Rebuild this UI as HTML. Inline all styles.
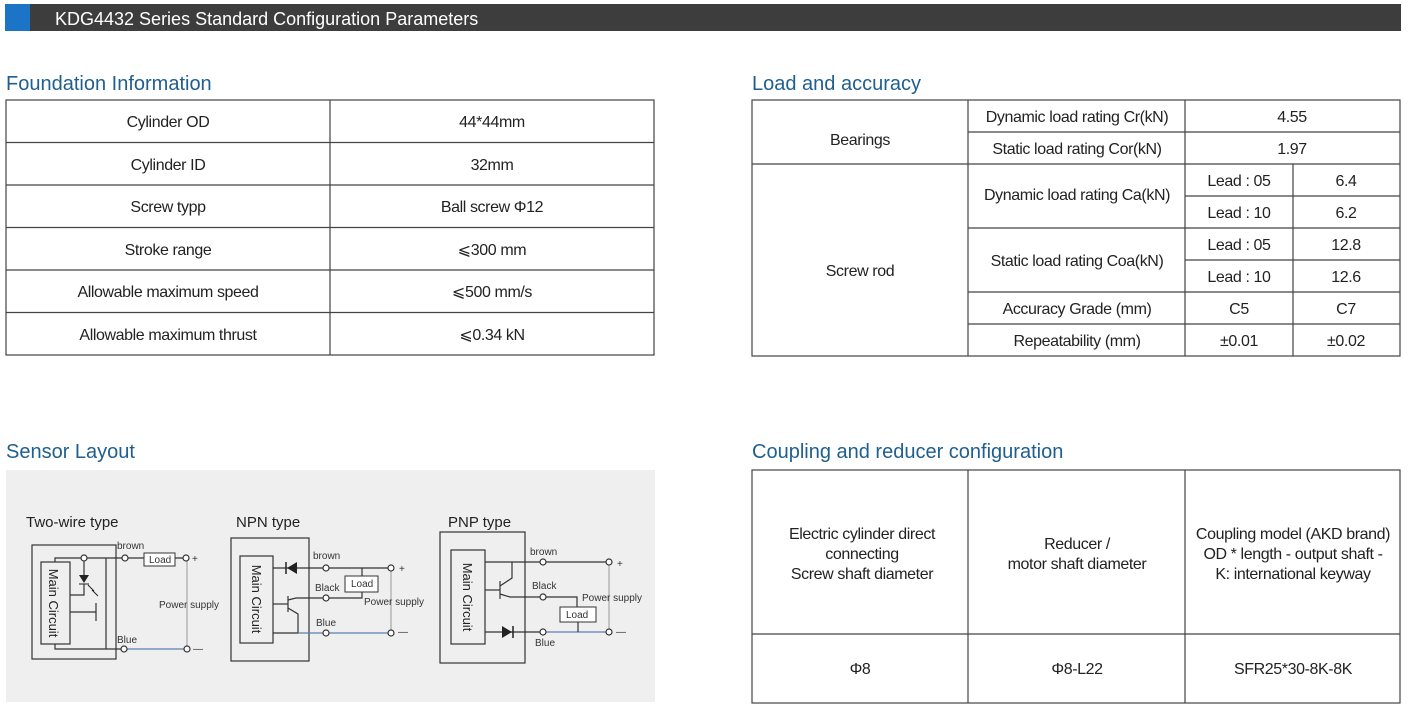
<!DOCTYPE html>
<html><head><meta charset="utf-8"><style>
html,body{margin:0;padding:0;background:#fff;}
svg{display:block;font-family:"Liberation Sans","DejaVu Sans",sans-serif;}
.t{font-size:16px;fill:#222;text-anchor:middle;letter-spacing:-0.4px}
.h{font-size:20px;fill:#1f5f8f}
.s{font-size:10px;fill:#333}
.w{stroke:#333;stroke-width:1.2;fill:none}
.c{stroke:#333;stroke-width:1.2;fill:#fff}
</style></head><body>
<svg width="1420" height="707" viewBox="0 0 1420 707">
<rect x="5" y="4" width="1396" height="27" fill="#3d3d3d"/>
<rect x="5" y="4" width="25" height="27" fill="#1b74c5"/>
<text x="55" y="25" font-size="18" fill="#fff">KDG4432 Series Standard Configuration Parameters</text>

<text class="h" x="6" y="90">Foundation Information</text>
<text class="h" x="752" y="90">Load and accuracy</text>
<text class="h" x="6" y="458">Sensor Layout</text>
<text class="h" x="752" y="458">Coupling and reducer configuration</text>

<g stroke="#444" stroke-width="1.2" fill="none">
<rect x="6" y="100" width="648" height="255"/>
<line x1="330" y1="100" x2="330" y2="355"/>
<line x1="6" y1="142.5" x2="654" y2="142.5"/>
<line x1="6" y1="185" x2="654" y2="185"/>
<line x1="6" y1="227.5" x2="654" y2="227.5"/>
<line x1="6" y1="270" x2="654" y2="270"/>
<line x1="6" y1="312.5" x2="654" y2="312.5"/>
</g>
<text class="t" x="168" y="127">Cylinder OD</text><text class="t" x="492" y="127">44*44mm</text>
<text class="t" x="168" y="170">Cylinder ID</text><text class="t" x="492" y="170">32mm</text>
<text class="t" x="168" y="212">Screw typp</text><text class="t" x="492" y="212">Ball screw Φ12</text>
<text class="t" x="168" y="255">Stroke range</text><text class="t" x="492" y="255">⩽300 mm</text>
<text class="t" x="168" y="297">Allowable maximum speed</text><text class="t" x="492" y="297">⩽500 mm/s</text>
<text class="t" x="168" y="340">Allowable maximum thrust</text><text class="t" x="492" y="340">⩽0.34 kN</text>

<g stroke="#444" stroke-width="1.2" fill="none">
<rect x="752" y="100" width="648" height="256"/>
<line x1="968" y1="100" x2="968" y2="356"/>
<line x1="1185" y1="100" x2="1185" y2="356"/>
<line x1="1293" y1="164" x2="1293" y2="356"/>
<line x1="968" y1="132" x2="1400" y2="132"/>
<line x1="752" y1="164" x2="1400" y2="164"/>
<line x1="1185" y1="196" x2="1400" y2="196"/>
<line x1="968" y1="228" x2="1400" y2="228"/>
<line x1="1185" y1="260" x2="1400" y2="260"/>
<line x1="968" y1="292" x2="1400" y2="292"/>
<line x1="968" y1="324" x2="1400" y2="324"/>
</g>
<text class="t" x="860" y="145">Bearings</text>
<text class="t" x="860" y="276">Screw rod</text>
<text class="t" x="1077" y="122">Dynamic load rating Cr(kN)</text>
<text class="t" x="1077" y="154">Static load rating Cor(kN)</text>
<text class="t" x="1077" y="200">Dynamic load rating Ca(kN)</text>
<text class="t" x="1077" y="266">Static load rating Coa(kN)</text>
<text class="t" x="1077" y="314">Accuracy Grade (mm)</text>
<text class="t" x="1077" y="346">Repeatability (mm)</text>
<text class="t" x="1292" y="122">4.55</text>
<text class="t" x="1292" y="154">1.97</text>
<text class="t" x="1239" y="186">Lead : 05</text><text class="t" x="1346" y="186">6.4</text>
<text class="t" x="1239" y="218">Lead : 10</text><text class="t" x="1346" y="218">6.2</text>
<text class="t" x="1239" y="250">Lead : 05</text><text class="t" x="1346" y="250">12.8</text>
<text class="t" x="1239" y="282">Lead : 10</text><text class="t" x="1346" y="282">12.6</text>
<text class="t" x="1239" y="314">C5</text><text class="t" x="1346" y="314">C7</text>
<text class="t" x="1239" y="346">±0.01</text><text class="t" x="1346" y="346">±0.02</text>

<g stroke="#444" stroke-width="1.2" fill="none">
<rect x="752" y="470" width="648" height="233"/>
<line x1="968" y1="470" x2="968" y2="703"/>
<line x1="1185" y1="470" x2="1185" y2="703"/>
<line x1="752" y1="634" x2="1400" y2="634"/>
</g>
<text class="t" x="862" y="539">Electric cylinder direct</text>
<text class="t" x="862" y="559">connecting</text>
<text class="t" x="862" y="579">Screw shaft diameter</text>
<text class="t" x="1077" y="549">Reducer /</text>
<text class="t" x="1077" y="569">motor shaft diameter</text>
<text class="t" x="1293" y="539">Coupling model (AKD brand)</text>
<text class="t" x="1293" y="559">OD * length - output shaft -</text>
<text class="t" x="1293" y="579">K: international keyway</text>
<text class="t" x="860" y="674">Φ8</text>
<text class="t" x="1077" y="674">Φ8-L22</text>
<text class="t" x="1293" y="674">SFR25*30-8K-8K</text>

<rect x="6" y="470" width="649" height="232" fill="#efefef"/>
<g font-size="15" fill="#222">
<text x="26" y="527">Two-wire type</text>
<text x="236" y="527">NPN type</text>
<text x="448" y="527">PNP type</text>
</g>

<rect class="w" x="32" y="545" width="84" height="114"/>
<rect class="w" x="41" y="562" width="29" height="82"/>
<text x="49" y="603" font-size="13" fill="#222" transform="rotate(90 49 603)" text-anchor="middle">Main Circuit</text>
<polyline class="w" points="55,562 55,558 186,558"/>
<polyline class="w" points="55,644 55,649 124,649"/>
<line x1="124" y1="649" x2="187" y2="649" stroke="#5a7fb0" stroke-width="1.2"/>
<line x1="106" y1="558" x2="106" y2="649" class="w"/>
<line x1="84" y1="558" x2="84" y2="577" class="w"/>
<polygon points="79,575 89,575 84,583" fill="#222"/>
<line x1="79" y1="584" x2="89" y2="584" stroke="#222"/>
<polyline class="w" points="70,595 84,595 84,584"/>
<line x1="70" y1="612" x2="96" y2="612" class="w"/>
<line x1="96" y1="603" x2="96" y2="621" class="w"/>
<line x1="88" y1="585" x2="94" y2="591" stroke="#222"/><line x1="92" y1="590" x2="98" y2="596" stroke="#222"/>
<rect x="144" y="553" width="31" height="13" fill="#fff" stroke="#333"/>
<text class="s" x="149" y="563">Load</text>
<line x1="187" y1="558" x2="187" y2="649" stroke="#999" stroke-width="1"/>
<circle class="c" cx="84" cy="558" r="3"/><circle class="c" cx="125" cy="558" r="3"/><circle class="c" cx="186" cy="558" r="3"/>
<circle class="c" cx="124" cy="649" r="3"/><circle class="c" cx="187" cy="649" r="3"/>
<text class="s" x="117" y="549">brown</text><text class="s" x="192" y="562">+</text>
<text class="s" x="117" y="643">Blue</text><text class="s" x="193" y="652">—</text>
<text class="s" x="159" y="608">Power supply</text>

<rect class="w" x="231" y="538" width="78" height="123"/>
<rect class="w" x="240" y="556" width="33" height="87"/>
<text x="252" y="599" font-size="13" fill="#222" transform="rotate(90 252 599)" text-anchor="middle">Main Circuit</text>
<line class="w" x1="273" y1="568" x2="391" y2="568"/>
<polygon points="287,568 297,562 297,574" fill="#222"/><line x1="286" y1="562" x2="286" y2="574" stroke="#222" stroke-width="1.5"/>
<line class="w" x1="273" y1="604" x2="288" y2="604"/>
<line class="w" x1="288" y1="596" x2="288" y2="612"/>
<polyline class="w" points="288,600 296,598 326,598"/>
<polyline class="w" points="288,608 298,614 298,633 273,633"/>
<line x1="298" y1="633" x2="391" y2="633" stroke="#5a7fb0" stroke-width="1.2"/>
<polyline class="w" points="362,568 362,576"/><polyline class="w" points="362,592 362,598 326,598"/>
<rect x="345" y="576" width="33" height="16" fill="#fff" stroke="#333"/>
<text class="s" x="351" y="587">Load</text>
<line x1="391" y1="568" x2="391" y2="633" stroke="#999"/>
<circle class="c" cx="326" cy="568" r="3"/><circle class="c" cx="391" cy="568" r="3"/>
<circle class="c" cx="326" cy="598" r="3"/><circle class="c" cx="326" cy="633" r="3"/><circle class="c" cx="391" cy="633" r="3"/>
<text class="s" x="313" y="559">brown</text><text class="s" x="315" y="591">Black</text><text class="s" x="316" y="626">Blue</text>
<text class="s" x="399" y="572">+</text><text class="s" x="398" y="635">—</text>
<text class="s" x="364" y="605">Power supply</text>

<rect class="w" x="440" y="532" width="85" height="131"/>
<rect class="w" x="451" y="550" width="34" height="94"/>
<text x="463" y="597" font-size="13" fill="#222" transform="rotate(90 463 597)" text-anchor="middle">Main Circuit</text>
<line class="w" x1="485" y1="562" x2="609" y2="562"/>
<line class="w" x1="485" y1="590" x2="500" y2="590"/>
<line class="w" x1="500" y1="581" x2="500" y2="599"/>
<polyline class="w" points="500,586 512,578 512,562"/>
<polyline class="w" points="500,594 510,597 543,597 577,597 577,607"/>
<line class="w" x1="485" y1="632" x2="543" y2="632"/>
<line x1="543" y1="632" x2="609" y2="632" stroke="#5a7fb0" stroke-width="1.2"/>
<polygon points="502,626 502,638 512,632" fill="#222"/><line x1="513" y1="626" x2="513" y2="638" stroke="#222" stroke-width="1.5"/>
<rect x="560" y="607" width="36" height="15" fill="#fff" stroke="#333"/>
<text class="s" x="566" y="618">Load</text>
<line class="w" x1="578" y1="622" x2="578" y2="632"/>
<line x1="609" y1="562" x2="609" y2="632" stroke="#999"/>
<circle class="c" cx="543" cy="562" r="3"/><circle class="c" cx="609" cy="562" r="3"/>
<circle class="c" cx="543" cy="597" r="3"/><circle class="c" cx="543" cy="632" r="3"/><circle class="c" cx="609" cy="632" r="3"/>
<text class="s" x="530" y="555">brown</text><text class="s" x="532" y="589">Black</text><text class="s" x="535" y="646">Blue</text>
<text class="s" x="617" y="567">+</text><text class="s" x="616" y="635">—</text>
<text class="s" x="582" y="601">Power supply</text>
</svg>
</body></html>
